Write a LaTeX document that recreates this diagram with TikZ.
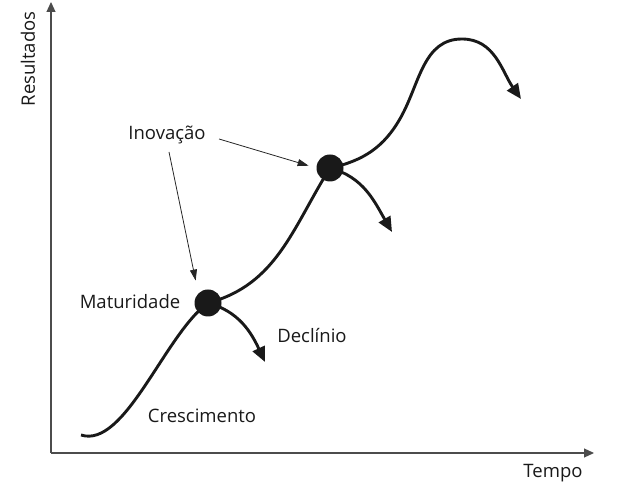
\documentclass[tikz,border=0pt]{standalone}
\usepackage{fontspec}
\setmainfont{Open Sans}
\usetikzlibrary{arrows.meta}
\begin{document}
\begin{tikzpicture}[x=1pt,y=1pt,
  lbl/.style={font=\fontsize{18.5}{20}\selectfont, text=black!90, inner sep=0pt},
  curve/.style={line width=2.9pt, black!90},
  bigtip/.style={-{Triangle[length=15pt,width=13pt]}},
  dotnode/.style={circle, fill=black!90, minimum size=27pt, inner sep=0pt},
  axis/.style={line width=1.2pt, black!70, -{Triangle[length=10pt,width=9pt]}},
  pointer/.style={line width=0.8pt, black!85, -{Triangle[length=11pt,width=7pt]}}]
\useasboundingbox (0,0) rectangle (618,489);
% axes
\coordinate (O) at (51,36);
\coordinate (ytop) at (51,487);
\coordinate (xend) at (594,36);
\draw[axis] (O) -- (ytop);
\draw[axis] (O) -- (xend);
\node[lbl, rotate=90] (res) at (28,430) {Resultados};
\node[lbl] (tempo) at (553,16) {Tempo};
% points
\coordinate (s) at (81,54);
\coordinate (p1) at (208,186);
\coordinate (p2) at (330,321);
\coordinate (i2) at (401,372);
\coordinate (peak) at (462,450);
\coordinate (t3) at (521,390);
\coordinate (t1) at (265,127);
\coordinate (t2) at (392,257);
% curves
\draw[curve] (s) .. controls (125,40) and (165,155) .. (p1);
\draw[curve] (p1) to[out=15, in=238] (p2);
\draw[curve] (p2) to[out=12, in=241] (i2) to[out=61, in=180] (peak);
\draw[curve, bigtip] (peak) to[out=0, in=125] (t3);
\draw[curve, bigtip] (p1) to[out=-15, in=115] (t1);
\draw[curve, bigtip] (p2) to[out=-15, in=120] (t2);
\node[dotnode] (d1) at (p1) {};
\node[dotnode] (d2) at (p2) {};
% labels
\node[lbl] (inov) at (167,354) {Inovação};
\node[lbl] (mat) at (130,187) {Maturidade};
\node[lbl] (dec) at (312,153) {Declínio};
\node[lbl] (cres) at (202,73) {Crescimento};
\coordinate (a1s) at (169,337);
\coordinate (a2s) at (219,350);
\draw[pointer, shorten >=13pt] (a1s) -- (d1.north west);
\draw[pointer, shorten >=8pt] (a2s) -- (d2.west);
\end{tikzpicture}
\end{document}
